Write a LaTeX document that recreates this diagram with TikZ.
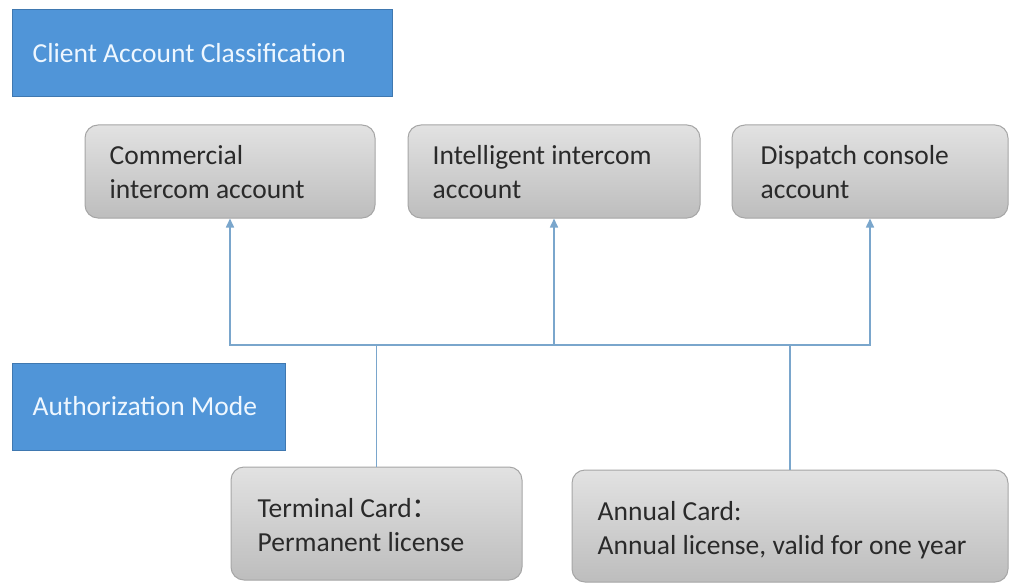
\documentclass[tikz,border=0pt]{standalone}
\usepackage{fontspec}
\setmainfont{Carlito}
\newfontfamily\cjk{Noto Sans CJK SC}
\usetikzlibrary{arrows.meta,positioning}

\definecolor{headblue}{HTML}{5095D8}
\definecolor{headedge}{HTML}{3F78B0}
\definecolor{headtext}{HTML}{EEF7FF}
\definecolor{cardtop}{HTML}{E2E2E2}
\definecolor{cardbot}{HTML}{BDBDBD}
\definecolor{cardedge}{HTML}{A6A6A6}
\definecolor{cardtext}{HTML}{2A2A2A}
\definecolor{linkblue}{HTML}{7AA6CC}

\tikzset{
  header/.style={draw=headedge, line width=1pt, fill=headblue, inner sep=0pt},
  headlabel/.style={anchor=west, inner sep=0pt, text=headtext,
    font=\fontsize{27.5}{32}\selectfont},
  card/.style={draw=cardedge, line width=1pt, rounded corners=13pt,
    top color=cardtop, bottom color=cardbot, inner sep=0pt},
  cardlabel/.style={anchor=north west, inner sep=0pt, align=left, text=cardtext,
    font=\fontsize{27.5}{33.5}\selectfont},
  link/.style={draw=linkblue, line width=1.6pt},
  tip/.style={-{Triangle[width=8pt,length=9pt]}},
}

\begin{document}
\begin{tikzpicture}[x=1pt, y=-1pt]
  \useasboundingbox (0,0) rectangle (1011,583);
  \fill[white] (0,0) rectangle (1011,583);

  % section headers
  \node[header, minimum width=380, minimum height=87] (hclient) at (202,53.5) {};
  \node[headlabel] (hclienttxt) at ([xshift=21]hclient.west) {Client Account Classification};
  \node[header, minimum width=273, minimum height=87] (hauth) at (148.5,406.5) {};
  \node[headlabel] (hauthtxt) at ([xshift=21]hauth.west) {Authorization Mode};

  % account types
  \node[card, minimum width=290, minimum height=93] (comm) at (230,171.5) {};
  \node[cardlabel] (commtxt) at ([xshift=25,yshift=-21]comm.north west) {Commercial\\intercom account};
  \node[card, minimum width=292, minimum height=93] (intel) at (554,171.5) {};
  \node[cardlabel] (inteltxt) at ([xshift=25,yshift=-21]intel.north west) {Intelligent intercom\\account};
  \node[card, minimum width=276, minimum height=93] (disp) at (870,171.5) {};
  \node[cardlabel] (disptxt) at ([xshift=29,yshift=-21]disp.north west) {Dispatch console\\account};

  % license types
  \node[card, minimum width=291, minimum height=113] (term) at (376.5,523.5) {};
  \node[cardlabel] (termtxt) at ([xshift=27,yshift=-32]term.north west) {Terminal Card{\cjk ：}\\Permanent license};
  \node[card, minimum width=436, minimum height=112] (annual) at (790,526) {};
  \node[cardlabel] (annualtxt) at ([xshift=26,yshift=-32]annual.north west) {Annual Card:\\Annual license, valid for one year};

  % connectors
  \coordinate (bus) at (0,345);
  \draw[link] (term.north) -- (term.north |- bus);
  \draw[link] (annual.north) -- (annual.north |- bus);
  \draw[link, {Triangle[width=8pt,length=9pt]}-{Triangle[width=8pt,length=9pt]}]
    (comm.south) -- (comm.south |- bus) -- (disp.south |- bus) -- (disp.south);
  \draw[link, tip] (intel.south |- bus) -- (intel.south);
\end{tikzpicture}
\end{document}
